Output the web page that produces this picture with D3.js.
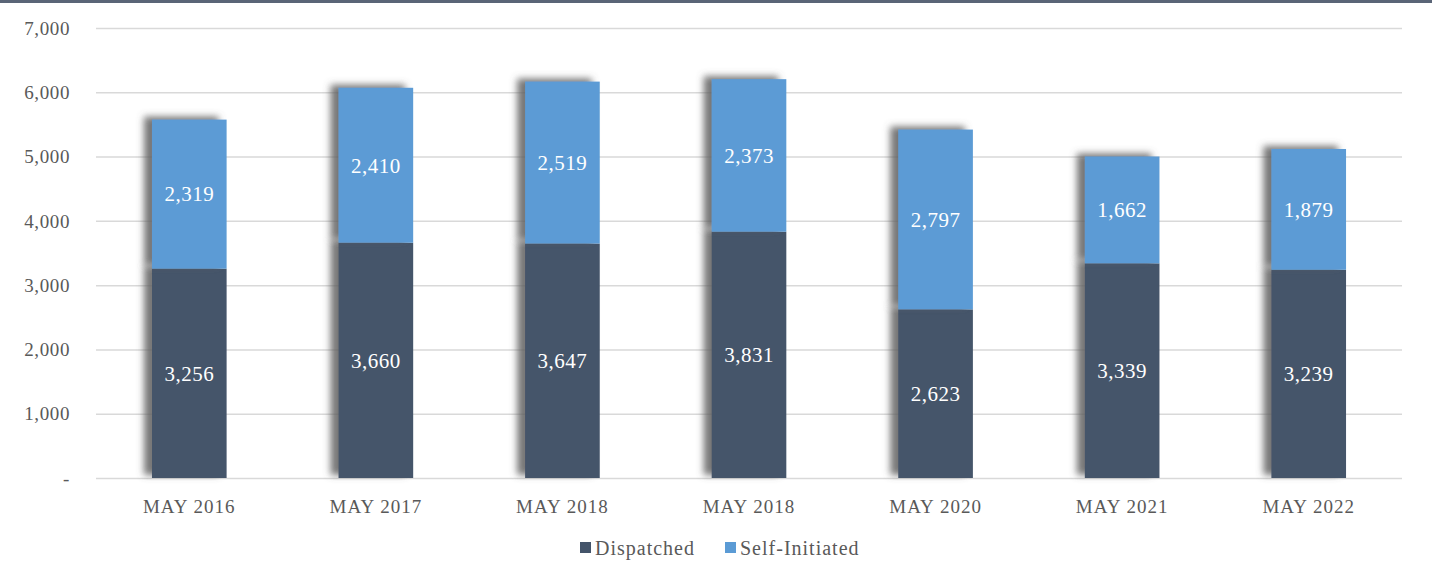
<!DOCTYPE html>
<html>
<head>
<meta charset="utf-8">
<script src="https://cdn.jsdelivr.net/npm/d3@7"></script>
<style>
  body { margin: 0; background: #fff; }
  svg { display: block; font-family: "Book Antiqua", "Palatino Linotype", "Liberation Serif", serif; }
</style>
</head>
<body>
<div id="chart"></div>
<script>
// data
const months = ['MAY 2016', 'MAY 2017', 'MAY 2018', 'MAY 2018 ', 'MAY 2020', 'MAY 2021', 'MAY 2022']
const dispatched = [3256, 3660, 3647, 3831, 2623, 3339, 3239]
const selfInitiated = [2319, 2410, 2519, 2373, 2797, 1662, 1879]
const seriesNames = ['Dispatched', 'Self-Initiated']
const yTicks = [0, 1000, 2000, 3000, 4000, 5000, 6000, 7000]

const dim = { width: 1435, height: 561 }
const plot = { left: 96, right: 1402, top: 28, bottom: 478 }

const svg = d3.select('#chart')
    .append('svg')
    .attr('width', dim.width)
    .attr('height', dim.height)

// top border
svg.append('rect')
    .attr('x', 0).attr('y', 0)
    .attr('width', 1432).attr('height', 3)
    .attr('fill', '#5a6577')

// shadow filter
const defs = svg.append('defs')
const f = defs.append('filter').attr('id', 'shadow')
    .attr('x', '-30%').attr('y', '-30%').attr('width', '160%').attr('height', '160%')
f.append('feGaussianBlur').attr('in', 'SourceAlpha').attr('stdDeviation', 3.5)
f.append('feOffset').attr('dx', -8).attr('dy', -3).attr('result', 'off')
f.append('feFlood').attr('flood-color', '#5f5f5f').attr('flood-opacity', 0.85)
f.append('feComposite').attr('in2', 'off').attr('operator', 'in')
const m = f.append('feMerge')
m.append('feMergeNode')
m.append('feMergeNode').attr('in', 'SourceGraphic')

const x = d3.scaleBand()
    .domain(months)
    .range([plot.left, plot.right])
    .paddingInner(0.6)
    .paddingOuter(0.3)

const y = d3.scaleLinear()
    .domain([0, 7000])
    .range([plot.bottom, plot.top])

// gridlines
svg.append('g')
    .selectAll('line')
    .data(yTicks)
    .join('line')
    .attr('x1', plot.left).attr('x2', plot.right)
    .attr('y1', d => y(d) + 0.5).attr('y2', d => y(d) + 0.5)
    .attr('stroke', '#d9d9d9')
    .attr('stroke-width', 1.5)

// y labels
svg.append('g')
    .selectAll('text')
    .data(yTicks)
    .join('text')
    .attr('x', 70)
    .attr('y', d => y(d))
    .attr('dy', '0.35em')
    .attr('text-anchor', 'end')
    .attr('font-size', 19)
    .attr('letter-spacing', 0.6)
    .attr('fill', '#595959')
    .text(d => d === 0 ? '-' : d3.format(',')(d))

// stack
const rows = months.map((mth, i) => ({ month: mth, Dispatched: dispatched[i], 'Self-Initiated': selfInitiated[i] }))
const stackData = d3.stack().keys(seriesNames)(rows)
const color = d3.scaleOrdinal().domain(seriesNames).range(['#44546a', '#5b9bd5'])

const groups = svg.append('g')
    .selectAll('g')
    .data(stackData)
    .join('g')
    .attr('fill', d => color(d.key))

groups.selectAll('rect')
    .data(d => d)
    .join('rect')
    .attr('x', d => x(d.data.month))
    .attr('y', d => y(d[1]))
    .attr('width', x.bandwidth())
    .attr('height', d => y(d[0]) - y(d[1]))
    .attr('filter', 'url(#shadow)')

// value labels
svg.append('g')
    .selectAll('g')
    .data(stackData)
    .join('g')
    .selectAll('text')
    .data(d => d)
    .join('text')
    .attr('x', d => x(d.data.month) + x.bandwidth() / 2)
    .attr('y', d => y((d[0] + d[1]) / 2))
    .attr('dy', '0.35em')
    .attr('text-anchor', 'middle')
    .attr('font-size', 21)
    .attr('letter-spacing', 0.5)
    .attr('fill', '#ffffff')
    .text(d => d3.format(',')(d[1] - d[0]))

// x labels
svg.append('g')
    .selectAll('text')
    .data(months)
    .join('text')
    .attr('x', d => x(d) + x.bandwidth() / 2)
    .attr('y', 506)
    .attr('dy', '0.35em')
    .attr('text-anchor', 'middle')
    .attr('font-size', 19)
    .attr('letter-spacing', 1)
    .attr('fill', '#595959')
    .text(d => d.trim())

// legend
const legend = svg.append('g').attr('transform', 'translate(580, 548)')
const items = legend.selectAll('g')
    .data(seriesNames)
    .join('g')
    .attr('transform', (d, i) => `translate(${i * 145}, 0)`)
items.append('rect')
    .attr('x', 0).attr('y', -6)
    .attr('width', 11).attr('height', 11)
    .attr('fill', d => color(d))
items.append('text')
    .attr('x', 15)
    .attr('y', 0)
    .attr('dy', '0.35em')
    .attr('font-size', 20)
    .attr('letter-spacing', 1)
    .attr('fill', '#595959')
    .text(d => d)
</script>
</body>
</html>
